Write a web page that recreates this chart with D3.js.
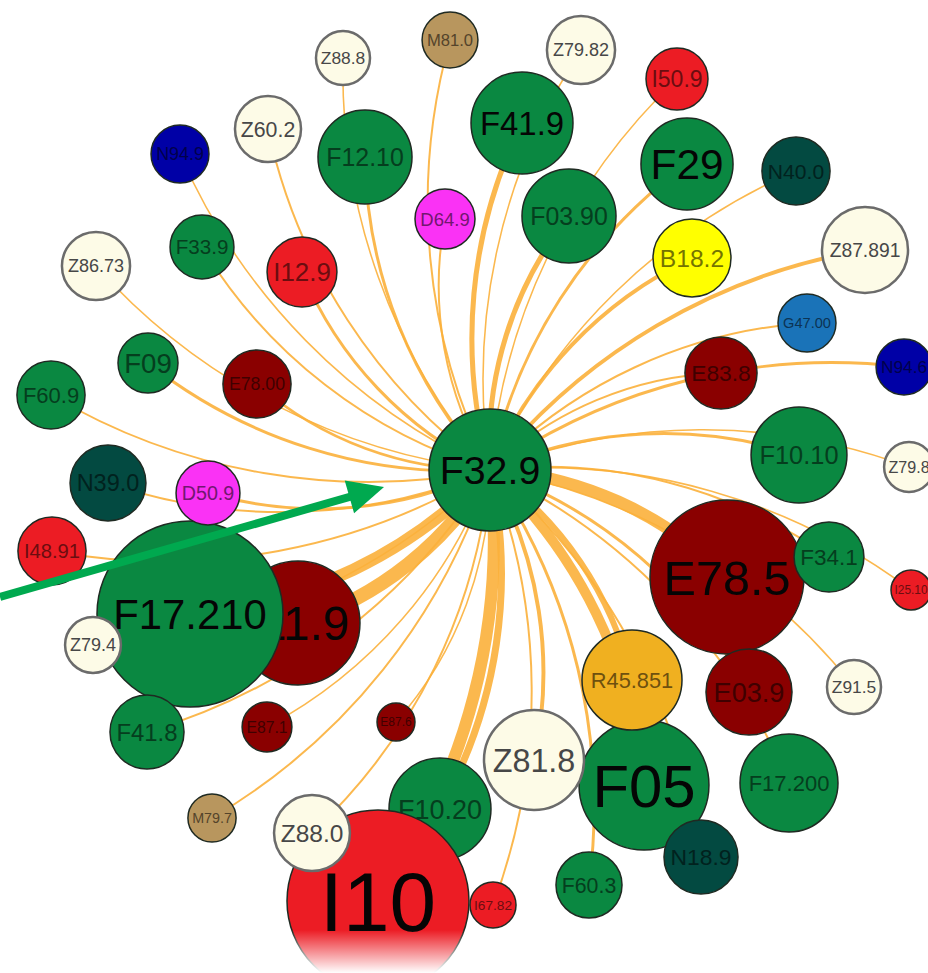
<!DOCTYPE html>
<html>
<head>
<meta charset="utf-8">
<script src="https://cdn.jsdelivr.net/npm/d3@7"></script>
<style>
  html, body { margin: 0; padding: 0; background: #fff; }
  svg { display: block; font-family: "Liberation Sans", Arial, sans-serif; }
</style>
</head>
<body>
<svg id="network" width="928" height="973"></svg>
<script>
// hub diagnosis
const hubLabel = "F32.9";
const hubGroup = "mental";
const hubCount = 372;

// co-occurring diagnoses, listed in drawing order
const labels = [
  "I11.9", "F17.210", "Z79.4", "F10.20", "I10", "Z88.0", "M79.7", "E87.1", "E87.6", "F41.8",
  "I67.82", "F60.3", "F05", "Z81.8", "N18.9", "R45.851", "E78.5", "E03.9", "F17.200", "Z91.5",
  "F34.1", "I25.10", "F10.10", "Z79.8", "E83.8", "N94.6", "G47.00", "Z87.891", "B18.2", "N40.0",
  "F29", "I50.9", "F03.90", "Z79.82", "F41.9", "M81.0", "D64.9", "Z88.8", "F12.10", "Z60.2",
  "N94.9", "I12.9", "F33.9", "Z86.73", "F09", "E78.00", "F60.9", "N39.0", "D50.9", "I48.91"
];
const groups = [
  "endocrine", "mental", "factors", "mental", "circulatory", "factors", "musculo", "endocrine", "endocrine", "mental",
  "circulatory", "mental", "mental", "factors", "urinary", "symptoms", "endocrine", "endocrine", "mental", "factors",
  "mental", "circulatory", "mental", "factors", "endocrine", "genital", "nervous", "factors", "infectious", "urinary",
  "mental", "circulatory", "mental", "factors", "mental", "musculo", "blood", "factors", "mental", "factors",
  "genital", "circulatory", "mental", "factors", "mental", "endocrine", "mental", "urinary", "blood", "circulatory"
];
// layout position relative to the hub (layout units)
const layoutX = [
  -19.2, -30.0, -39.7, -5.0, -11.2, -17.8, -27.8, -22.3, -9.4, -34.3,
  0.3, 9.9, 15.4, 4.4, 21.1, 14.2, 23.7, 25.9, 29.9, 36.4,
  33.9, 42.1, 30.9, 41.9, 23.1, 41.4, 31.7, 37.5, 20.2, 30.6,
  19.7, 18.7, 7.9, 9.1, 3.2, -4.0, -4.5, -14.7, -12.5, -22.2,
  -31.0, -18.8, -28.8, -39.4, -34.2, -23.3, -43.9, -38.2, -28.2, -43.8
];
const layoutY = [
  15.3, 14.4, 17.5, 33.9, 43.1, 36.3, 34.8, 25.7, 25.2, 26.2,
  43.5, 41.5, 31.5, 29.0, 38.7, 21.0, 10.7, 22.2, 31.3, 21.7,
  8.7, 12.0, -1.5, -0.3, -9.7, -10.3, -14.7, -22.0, -21.2, -29.9,
  -30.6, -39.1, -25.4, -42.0, -34.7, -43.0, -25.1, -41.2, -31.3, -34.1,
  -31.6, -19.8, -22.3, -20.4, -10.7, -8.6, -7.5, 1.3, 2.3, 8.1
];
// patient counts per diagnosis (circle area)
const counts = [
  384, 865, 78, 260, 828, 144, 58, 62, 36, 137,
  53, 109, 422, 250, 137, 250, 593, 185, 240, 73,
  122, 40, 230, 62, 130, 78, 84, 185, 152, 116,
  212, 96, 221, 116, 260, 78, 90, 73, 221, 109,
  84, 122, 102, 116, 90, 116, 116, 144, 102, 116
];
// co-occurrence strength with the hub (link width)
const linkWeights = [
  93, 79, 4, 43, 79, 7, 7, 4, 4, 7,
  7, 14, 64, 21, 7, 36, 79, 14, 7, 4,
  7, 4, 14, 4, 7, 14, 7, 21, 21, 4,
  14, 4, 29, 4, 29, 7, 7, 4, 14, 7,
  4, 14, 7, 4, 14, 11, 7, 7, 14, 7
];
// annotation arrow pointing at the hub (layout units)
const arrowFrom = [-49, 12.7];
const arrowTo = [-10.6, 1.7];

const groupColors = {
  mental: "#0a8841",
  endocrine: "#8a0000",
  circulatory: "#ec1c24",
  factors: "#fdfbe7",
  urinary: "#034a41",
  genital: "#0000a6",
  blood: "#fa32f5",
  infectious: "#ffff00",
  musculo: "#b8965e",
  nervous: "#1a73b8",
  symptoms: "#f0b020"
};

const svg = d3.select("#network");
const width = +svg.attr("width");
const height = +svg.attr("height");

const x = d3.scaleLinear().domain([-49, 43.8]).range([0, width]);
const y = d3.scaleLinear().domain([-47, 50.3]).range([0, height]);
const r = d3.scaleSqrt().domain([0, 1000]).range([0, 100]);
const linkWidth = d3.scaleLinear().domain([0, 100]).range([1, 15]);
const color = d3.scaleOrdinal()
  .domain(Object.keys(groupColors))
  .range(Object.values(groupColors));

const hub = { label: hubLabel, group: hubGroup, count: hubCount, x: x(0), y: y(0) };
const nodes = labels.map((label, i) => ({
  label,
  group: groups[i],
  count: counts[i],
  weight: linkWeights[i],
  x: x(layoutX[i]),
  y: y(layoutY[i])
}));

svg.append("rect").attr("width", width).attr("height", height).attr("fill", "#fff");

// curved links, all clockwise from the hub
function arcPath(s, t) {
  const dr = Math.hypot(t.x - s.x, t.y - s.y) * 1.4;
  return `M${s.x},${s.y}A${dr},${dr} 0 0,1 ${t.x},${t.y}`;
}

svg.append("g")
  .attr("fill", "none")
  .attr("stroke", "#fbb03b")
  .attr("stroke-opacity", 0.9)
  .selectAll("path")
  .data(nodes.slice().sort((a, b) => a.weight - b.weight))
  .join("path")
  .attr("stroke-width", d => linkWidth(d.weight))
  .attr("d", d => arcPath(hub, d));

// nodes
const node = svg.append("g")
  .selectAll("g")
  .data(nodes.concat([hub]))
  .join("g")
  .attr("transform", d => `translate(${d.x},${d.y})`);

node.append("circle")
  .attr("r", d => r(d.count))
  .attr("fill", d => color(d.group))
  .attr("stroke", d => d.group === "factors" ? "#6b6b6b" : "#1f2a22")
  .attr("stroke-width", d => d.group === "factors" ? 2.5 : 1.5);

// labels are fitted to the circle width
node.append("text")
  .attr("text-anchor", "middle")
  .attr("dy", "0.36em")
  .style("font-size", "10px")
  .text(d => d.label)
  .each(function(d) {
    const len = this.getComputedTextLength();
    const rad = r(d.count);
    const size = Math.min(10 * 1.65 * rad / len, 0.92 * rad);
    d.fontSize = size;
    d3.select(this).style("font-size", size.toFixed(1) + "px");
  })
  .attr("fill", d => {
    if (d.group === "factors") return "#474747";
    if (d.fontSize >= 30) return "#050505";
    return d3.color(color(d.group)).darker(2.2);
  });

// soft fade at the bottom edge
const defs = svg.append("defs");
const fade = defs.append("linearGradient")
  .attr("id", "fade").attr("x1", 0).attr("x2", 0).attr("y1", 0).attr("y2", 1);
fade.append("stop").attr("offset", "0%").attr("stop-color", "#fff").attr("stop-opacity", 0);
fade.append("stop").attr("offset", "100%").attr("stop-color", "#fff").attr("stop-opacity", 1);
svg.append("rect")
  .attr("x", 0).attr("y", y(46.0))
  .attr("width", width).attr("height", height - y(46.0))
  .attr("fill", "url(#fade)");

// green annotation arrow
const ax0 = x(arrowFrom[0]), ay0 = y(arrowFrom[1]);
const ax1 = x(arrowTo[0]), ay1 = y(arrowTo[1]);
const ang = Math.atan2(ay1 - ay0, ax1 - ax0);
const headLen = 36, headHalf = 17;
const bx = ax1 - headLen * Math.cos(ang), by = ay1 - headLen * Math.sin(ang);

svg.append("line")
  .attr("x1", ax0).attr("y1", ay0)
  .attr("x2", bx + 4 * Math.cos(ang)).attr("y2", by + 4 * Math.sin(ang))
  .attr("stroke", "#00a94f")
  .attr("stroke-width", 8);

svg.append("path")
  .attr("fill", "#00a94f")
  .attr("d", d3.line()([
    [ax1, ay1],
    [bx - headHalf * Math.sin(ang), by + headHalf * Math.cos(ang)],
    [bx + headHalf * Math.sin(ang), by - headHalf * Math.cos(ang)]
  ]) + "Z");
</script>
</body>
</html>
